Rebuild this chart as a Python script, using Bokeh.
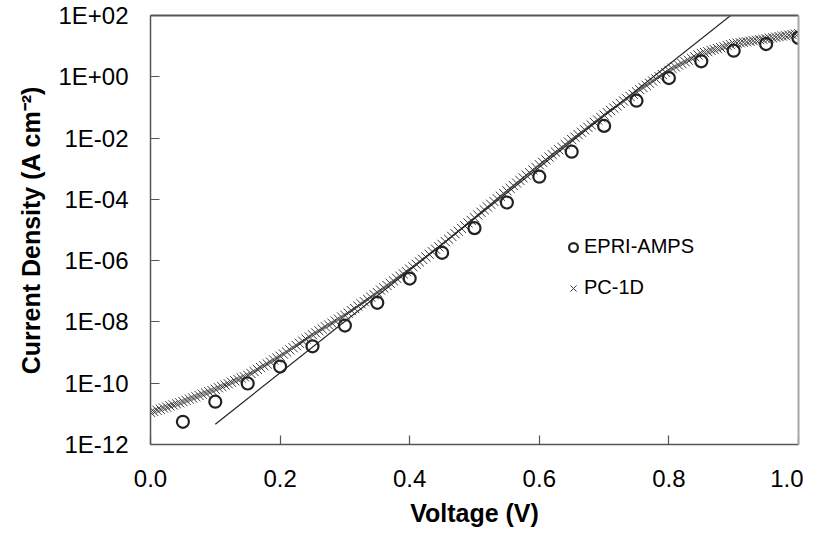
from bokeh.plotting import figure
from bokeh.models import (FixedTicker, PrintfTickFormatter, Legend, LegendItem,
                          LinearAxis, LogAxis, Range1d, ColumnDataSource)
from bokeh.embed import file_html
from bokeh.resources import INLINE

# ---------------- data ----------------
x_ticks = [0.0, 0.2, 0.4, 0.6, 0.8, 1.0]
y_ticks = [1e-12, 1e-10, 1e-8, 1e-6, 1e-4, 1e-2, 1e0, 1e2]
y_tick_labels = ["1E-12", "1E-10", "1E-08", "1E-06", "1E-04", "1E-02", "1E+00", "1E+02"]

# EPRI-AMPS (open circles)
amps_voltage = [0.05, 0.10, 0.15, 0.20, 0.25, 0.30, 0.35, 0.40, 0.45, 0.50,
                0.55, 0.60, 0.65, 0.70, 0.75, 0.80, 0.85, 0.90, 0.95, 1.00]
amps_current = [5.5e-12, 2.5e-11, 9.8e-11, 3.5e-10, 1.6e-9, 7.6e-9, 4.2e-8, 2.6e-7, 1.8e-6, 1.15e-5,
                7.9e-5, 5.5e-4, 3.6e-3, 2.5e-2, 0.166, 0.91, 3.2, 7.1, 11.7, 18.6]

# PC-1D (x markers), voltage and log10 of current density
pc1d_voltage = [
    0.000, 0.005, 0.010, 0.015, 0.020, 0.025, 0.030, 0.035, 0.040, 0.045,
    0.050, 0.055, 0.060, 0.065, 0.070, 0.075, 0.080, 0.085, 0.090, 0.095,
    0.100, 0.105, 0.110, 0.115, 0.120, 0.125, 0.130, 0.135, 0.140, 0.145,
    0.150, 0.155, 0.160, 0.165, 0.170, 0.175, 0.180, 0.185, 0.190, 0.195,
    0.200, 0.205, 0.210, 0.215, 0.220, 0.225, 0.230, 0.235, 0.240, 0.245,
    0.250, 0.255, 0.260, 0.265, 0.270, 0.275, 0.280, 0.285, 0.290, 0.295,
    0.300, 0.305, 0.310, 0.315, 0.320, 0.325, 0.330, 0.335, 0.340, 0.345,
    0.350, 0.355, 0.360, 0.365, 0.370, 0.375, 0.380, 0.385, 0.390, 0.395,
    0.400, 0.405, 0.410, 0.415, 0.420, 0.425, 0.430, 0.435, 0.440, 0.445,
    0.450, 0.455, 0.460, 0.465, 0.470, 0.475, 0.480, 0.485, 0.490, 0.495,
    0.500, 0.505, 0.510, 0.515, 0.520, 0.525, 0.530, 0.535, 0.540, 0.545,
    0.550, 0.555, 0.560, 0.565, 0.570, 0.575, 0.580, 0.585, 0.590, 0.595,
    0.600, 0.605, 0.610, 0.615, 0.620, 0.625, 0.630, 0.635, 0.640, 0.645,
    0.650, 0.655, 0.660, 0.665, 0.670, 0.675, 0.680, 0.685, 0.690, 0.695,
    0.700, 0.705, 0.710, 0.715, 0.720, 0.725, 0.730, 0.735, 0.740, 0.745,
    0.750, 0.755, 0.760, 0.765, 0.770, 0.775, 0.780, 0.785, 0.790, 0.795,
    0.800, 0.805, 0.810, 0.815, 0.820, 0.825, 0.830, 0.835, 0.840, 0.845,
    0.850, 0.855, 0.860, 0.865, 0.870, 0.875, 0.880, 0.885, 0.890, 0.895,
    0.900, 0.905, 0.910, 0.915, 0.920, 0.925, 0.930, 0.935, 0.940, 0.945,
    0.950, 0.955, 0.960, 0.965, 0.970, 0.975, 0.980, 0.985, 0.990, 0.995,
    1.000]
pc1d_log10_current = [
    -10.95, -10.92, -10.88, -10.85, -10.81, -10.78, -10.74, -10.71, -10.67, -10.64,
    -10.60, -10.56, -10.52, -10.48, -10.44, -10.40, -10.36, -10.32, -10.28, -10.24,
    -10.20, -10.15, -10.11, -10.06, -10.02, -9.97, -9.92, -9.88, -9.83, -9.79,
    -9.74, -9.68, -9.62, -9.55, -9.49, -9.43, -9.37, -9.31, -9.24, -9.18,
    -9.12, -9.05, -8.98, -8.91, -8.84, -8.77, -8.70, -8.63, -8.56, -8.49,
    -8.42, -8.36, -8.29, -8.23, -8.16, -8.10, -8.04, -7.97, -7.91, -7.84,
    -7.78, -7.71, -7.63, -7.56, -7.48, -7.41, -7.34, -7.26, -7.19, -7.11,
    -7.04, -6.96, -6.89, -6.81, -6.74, -6.66, -6.58, -6.51, -6.43, -6.36,
    -6.28, -6.20, -6.12, -6.04, -5.96, -5.88, -5.79, -5.71, -5.63, -5.55,
    -5.47, -5.38, -5.30, -5.21, -5.12, -5.04, -4.95, -4.86, -4.77, -4.69,
    -4.60, -4.51, -4.42, -4.34, -4.25, -4.16, -4.07, -3.98, -3.90, -3.81,
    -3.72, -3.64, -3.55, -3.47, -3.38, -3.30, -3.21, -3.13, -3.04, -2.96,
    -2.87, -2.79, -2.71, -2.62, -2.54, -2.46, -2.38, -2.30, -2.21, -2.13,
    -2.05, -1.97, -1.89, -1.81, -1.73, -1.65, -1.57, -1.49, -1.41, -1.33,
    -1.25, -1.17, -1.10, -1.02, -0.95, -0.87, -0.79, -0.72, -0.64, -0.57,
    -0.49, -0.42, -0.35, -0.28, -0.21, -0.14, -0.07, 0.00, 0.07, 0.14,
    0.21, 0.27, 0.32, 0.38, 0.43, 0.49, 0.54, 0.60, 0.65, 0.71,
    0.76, 0.79, 0.82, 0.86, 0.89, 0.92, 0.95, 0.98, 1.02, 1.05,
    1.08, 1.10, 1.11, 1.13, 1.14, 1.16, 1.18, 1.19, 1.21, 1.22,
    1.24, 1.26, 1.27, 1.29, 1.31, 1.33, 1.34, 1.36, 1.38, 1.39,
    1.41]

# Ideal-diode reference line (thin straight line)
ideal_voltage = [0.10, 0.90]
ideal_current = [4.6e-12, 1.2e2]

# ---------------- figure ----------------
FONT = "Liberation Sans"

p = figure(width=803, height=529, output_backend="svg", toolbar_location=None,
           x_range=Range1d(0.0, 1.0), y_range=Range1d(1e-12, 1e2),
           y_axis_type="log",
           min_border_left=150, min_border_right=5, min_border_top=15,
           min_border_bottom=83)
p.background_fill_color = "white"
p.border_fill_color = "white"
p.outline_line_color = None
p.xgrid.visible = False
p.ygrid.visible = False

pc_src = ColumnDataSource(dict(v=pc1d_voltage,
                               j=[10 ** e for e in pc1d_log10_current]))
r_pc = p.scatter("v", "j", source=pc_src, marker="x", size=13,
                 line_color="#3a3a3a", line_width=1)

p.line(ideal_voltage, ideal_current, line_color="#222222", line_width=1.2)

r_amps = p.scatter(amps_voltage, amps_current, marker="circle", size=12,
                   line_color="#222222", line_width=2.2, fill_color=None)

# axes
for ax in (p.xaxis[0], p.yaxis[0]):
    ax.major_tick_in = 9
    ax.major_tick_out = 0
    ax.minor_tick_in = 0
    ax.minor_tick_out = 0
    ax.axis_line_color = "#555555"
    ax.axis_line_width = 1.5
    ax.major_tick_line_color = "#555555"
    ax.major_tick_line_width = 1.2
    ax.major_label_text_font = FONT
    ax.major_label_text_font_size = "24px"
    ax.major_label_text_color = "black"
    ax.axis_label_text_font = FONT
    ax.axis_label_text_font_size = "25px"
    ax.axis_label_text_font_style = "bold"
    ax.axis_label_text_color = "black"

p.xaxis.ticker = FixedTicker(ticks=x_ticks, minor_ticks=[])
p.xaxis.formatter = PrintfTickFormatter(format="%.1f")
p.xaxis.major_label_standoff = 25
p.xaxis.axis_label = "Voltage (V)"
p.xaxis.axis_label_standoff = 9

p.yaxis.ticker = FixedTicker(ticks=y_ticks, minor_ticks=[])
p.yaxis.major_label_overrides = dict(zip(y_ticks, y_tick_labels))
p.yaxis.major_label_standoff = 22
p.yaxis.axis_label = "Current Density (A cm\u207b\u00b2)"
p.yaxis.axis_label_standoff = 10

# frame border: dark top, light right
top_ax = LinearAxis(ticker=FixedTicker(ticks=[]), major_tick_in=0, major_tick_out=0,
                    minor_tick_in=0, minor_tick_out=0, major_label_standoff=0,
                    major_label_text_font_size="0px", axis_line_color="#555555",
                    axis_line_width=2)
p.add_layout(top_ax, "above")
right_ax = LogAxis(ticker=FixedTicker(ticks=[]), major_tick_in=0, major_tick_out=0,
                   minor_tick_in=0, minor_tick_out=0, major_label_standoff=0,
                   major_label_text_font_size="0px", axis_line_color="#a8a8a8",
                   axis_line_width=2)
p.add_layout(right_ax, "right")

legend = Legend(items=[LegendItem(label="EPRI-AMPS", renderers=[r_amps]),
                       LegendItem(label="PC-1D", renderers=[r_pc])],
                location=(412, 145), orientation="vertical",
                border_line_color=None, background_fill_alpha=0,
                padding=0, margin=0, spacing=18,
                glyph_width=22, glyph_height=22, label_height=22,
                label_standoff=-3,
                label_text_font=FONT, label_text_font_size="20px",
                label_text_color="black")
p.add_layout(legend)

open("out.html", "w").write(file_html(p, INLINE))
